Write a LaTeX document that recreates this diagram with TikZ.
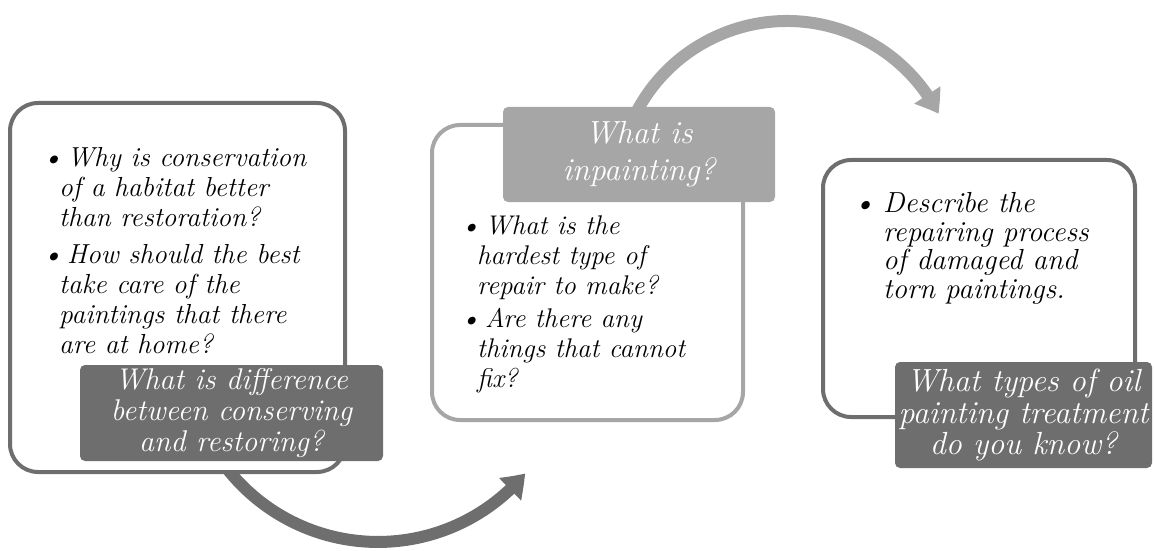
\documentclass[tikz,border=0pt]{standalone}
\usepackage{fontspec}
\usetikzlibrary{arrows.meta,bending}
\definecolor{dk}{RGB}{110,110,110}
\definecolor{lt}{RGB}{166,166,166}
\newcommand{\bul}[1]{\makebox[#1][l]{\textbullet}}
\begin{document}
\begin{tikzpicture}[x=1pt,y=1pt,
  panel/.style={rectangle,line width=4pt,rounded corners=28pt,fill=white,inner sep=0pt},
  tag/.style={rectangle,rounded corners=5pt,inner sep=0pt,text=white,align=center},
  body/.style={inner sep=0pt,align=left,anchor=base west},
  bigarrow/.style={line width=12pt,-{Triangle[width=30pt,length=22pt,bend]}}
]
\useasboundingbox (0,0) rectangle (1154,550);
% arrows
\coordinate (a1) at (215.2,98.3);
\draw[bigarrow,dk] (a1) arc[start angle=212,end angle=320,radius=192];
\coordinate (a2) at (636.9,438.8);
\draw[bigarrow,lt] (a2) arc[start angle=152,end angle=27,radius=170];
% panels
\node[panel,draw=dk,minimum width=335pt,minimum height=369pt] (box1) at (177.5,262.5) {};
\node[panel,draw=lt,minimum width=311pt,minimum height=295pt] (box2) at (587.5,277.5) {};
\node[panel,draw=dk,minimum width=312pt,minimum height=257pt] (box3) at (979,261.5) {};
% body texts (anchored at the baseline of the last line)
\node[body,font=\itshape\fontsize{27.5}{30}\selectfont] (t1) at (42,197) {%
\bul{25pt}Why is conservation\\
\hspace*{17pt}of a habitat better\\
\hspace*{17pt}than restoration?\\[7pt]
\bul{25pt}How should the best\\
\hspace*{17pt}take care of the\\
\hspace*{17pt}paintings that there\\
\hspace*{17pt}are at home?};
\node[body,font=\itshape\fontsize{27}{30}\selectfont] (t2) at (460,163) {%
\bul{25pt}What is the\\
\hspace*{17pt}hardest type of\\
\hspace*{17pt}repair to make?\\[3pt]
\bul{25pt}Are there any\\
\hspace*{17pt}things that cannot\\
\hspace*{17pt}fix?};
\node[body,font=\itshape\fontsize{29}{28.5}\selectfont] (t3) at (853,252) {%
\bul{30pt}Describe the\\
\hspace*{30pt}repairing process\\
\hspace*{30pt}of damaged and\\
\hspace*{30pt}torn paintings.};
% labels
\node[tag,fill=dk,minimum width=303pt,minimum height=96pt,font=\itshape\fontsize{30}{31}\selectfont] (l1) at (231.5,137)
  {What is difference\\between conserving\\and restoring?};
\node[tag,fill=lt,minimum width=272pt,minimum height=95pt,font=\itshape\fontsize{32}{37}\selectfont] (l2) at (639,395.5)
  {What is\\inpainting?};
\node[tag,fill=dk,minimum width=257pt,minimum height=106pt,font=\itshape\fontsize{32}{31.5}\selectfont] (l3) at (1023.5,135)
  {What types of oil\\painting treatment\\do you know?};
\end{tikzpicture}
\end{document}
